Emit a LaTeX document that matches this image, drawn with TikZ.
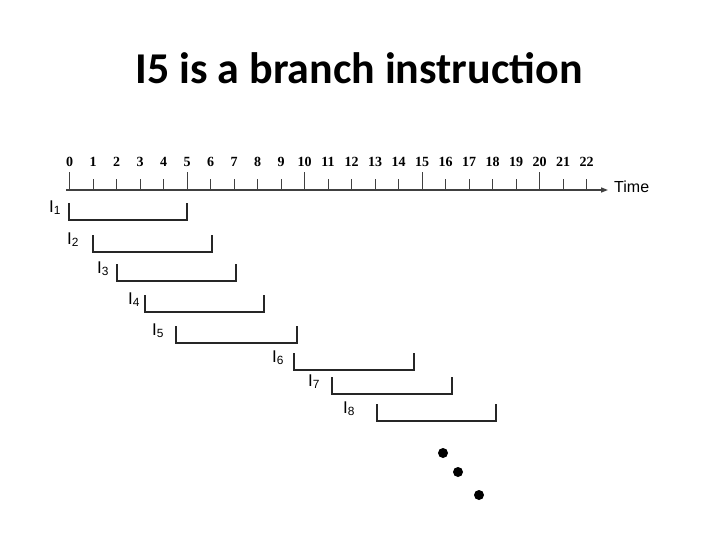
\documentclass[tikz,border=0pt]{standalone}
\usepackage{fontspec}
\setmainfont{Liberation Sans}
\newfontfamily\titlefont{Carlito}
\newfontfamily\tickfont{Liberation Serif}
\usetikzlibrary{arrows.meta}

\begin{document}
\begin{tikzpicture}[
        x=1pt, y=-1pt,
        axis/.style     ={line width=1.3pt, black!75, -{Triangle[length=7pt,width=5pt]}},
        tickmark/.style ={line width=1pt, black!75},
        ticklabel/.style={font=\tickfont\bfseries\fontsize{14}{14}\selectfont, inner sep=0pt},
        slot/.style     ={line width=1.4pt, black!85},
        instr/.style    ={font=\fontsize{17}{17}\selectfont, inner sep=0pt, anchor=base west},
        dot/.style      ={circle, fill=black, inner sep=0pt, minimum size=10pt},
    ]
        \useasboundingbox (0,0) rectangle (720,540);

        % --- Titulo ---
        \node[font=\titlefont\bfseries\fontsize{44}{44}\selectfont] (title) at (359,68) {I5 is a branch instruction};

        % --- Eje de tiempo ---
        \coordinate (t0) at (66,190);
        \node[anchor=west, inner sep=0pt, font=\fontsize{16}{16}\selectfont] (time) at (614,187) {Time};
        \draw[axis, shorten >=6pt] (t0) -- (time.west |- t0);
        \foreach \i in {0,...,22} {
            \pgfmathsetmacro\tx{69.5+23.5*\i}
            \pgfmathsetmacro\ttop{mod(\i,5)==0 ? 172 : 179}
            \draw[tickmark] (\tx,190) -- (\tx,\ttop);
            \node[ticklabel] (c\i) at (\tx,162) {\i};
        }

        % --- Instrucciones ---
        \foreach \n/\l/\r/\t/\lx in {1/69/187/203/49, 2/93/212/235/67, 3/117/236/264/97, 4/145/264/295/128,
                                     5/176/297/326/152, 6/294/414/353/272, 7/332/452/377/308, 8/377/496/404/343} {
            \node[instr] (i\n) at (\lx,\t+9) {I\textsubscript{\n}};
            \draw[slot] (\l,\t) -- (\l,\t+17) -- (\r,\t+17) -- (\r,\t);
        }

        % --- Puntos ---
        \node[dot] (d1) at (443,453) {};
        \node[dot] (d2) at (458,472) {};
        \node[dot] (d3) at (479,495) {};
    \end{tikzpicture}
\end{document}
